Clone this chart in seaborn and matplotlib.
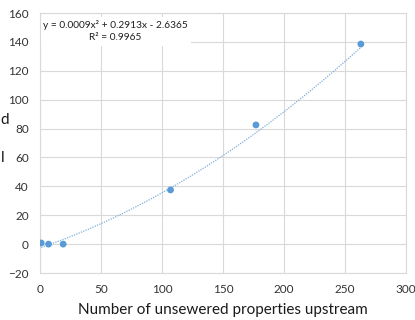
import numpy as np
import matplotlib
matplotlib.use("Agg")
import matplotlib.pyplot as plt
import seaborn as sns

# Observations: unsewered properties upstream vs. measured value
properties = [1, 7, 19, 107, 177, 263]
measured = [0.8, 0.0, 0.0, 37.5, 82.5, 138.5]

# Quadratic trendline coefficients and goodness of fit
coef_a, coef_b, coef_c = 0.0009, 0.2913, -2.6365
r_squared = 0.9965

x_ticks = [0, 50, 100, 150, 200, 250, 300]
y_ticks = [-20, 0, 20, 40, 60, 80, 100, 120, 140, 160]

sns.set_theme(style="white")
plt.rcParams["font.family"] = ["Lato", "DejaVu Sans"]

blue = "#5B9BD5"
grid_col = "#D9D9D9"

fig = plt.figure(figsize=(4.15, 3.2), dpi=100)
ax = fig.add_axes([40 / 415, 47 / 320, 366 / 415, 260 / 320])

# Trendline from the fitted polynomial
xs = np.linspace(min(properties), max(properties), 300)
ys = coef_a * xs ** 2 + coef_b * xs + coef_c
sns.lineplot(x=xs, y=ys, ax=ax, color="#7FAFDD", linewidth=0.9,
             linestyle=(0, (1, 1)), zorder=2)

sns.scatterplot(x=properties, y=measured, ax=ax, color=blue, s=24,
                edgecolor="none", zorder=3)

ax.set_xlim(x_ticks[0], x_ticks[-1])
ax.set_ylim(y_ticks[0], y_ticks[-1])
ax.set_xticks(x_ticks)
ax.set_yticks(y_ticks)
ax.grid(True, color=grid_col, linewidth=0.8, zorder=0)
ax.set_axisbelow(True)
for sp in ax.spines.values():
    sp.set_visible(True)
    sp.set_color(grid_col)
    sp.set_linewidth(0.8)
ax.tick_params(length=0, labelsize=8.5, labelcolor="#333333")
ax.tick_params(axis="y", pad=8)
ax.tick_params(axis="x", pad=8)

ax.set_xlabel("Number of unsewered properties upstream", fontsize=11,
              color="#1a1a1a", labelpad=6)

eq = (f"y = {coef_a:.4f}x² + {coef_b:.4f}x - {abs(coef_c):.4f}\n"
      f"R² = {r_squared:.4f}")
ax.text(0.205, 0.972, eq, transform=ax.transAxes, ha="center", va="top",
        multialignment="center", fontsize=7.3, color="#1f1f1f",
        linespacing=1.4,
        bbox=dict(facecolor="white", edgecolor="none", pad=2.5), zorder=2.2)

# Ends of the vertical-axis title lines, cut off at the left edge
fig.text(0.5 / 415, 1 - 120 / 320, "d", ha="left", va="center",
         fontsize=11, color="#1a1a1a")
fig.text(0.5 / 415, 1 - 158 / 320, "l", ha="left", va="center",
         fontsize=11, color="#1a1a1a")

fig.savefig("out.png", dpi=100, facecolor="white")
